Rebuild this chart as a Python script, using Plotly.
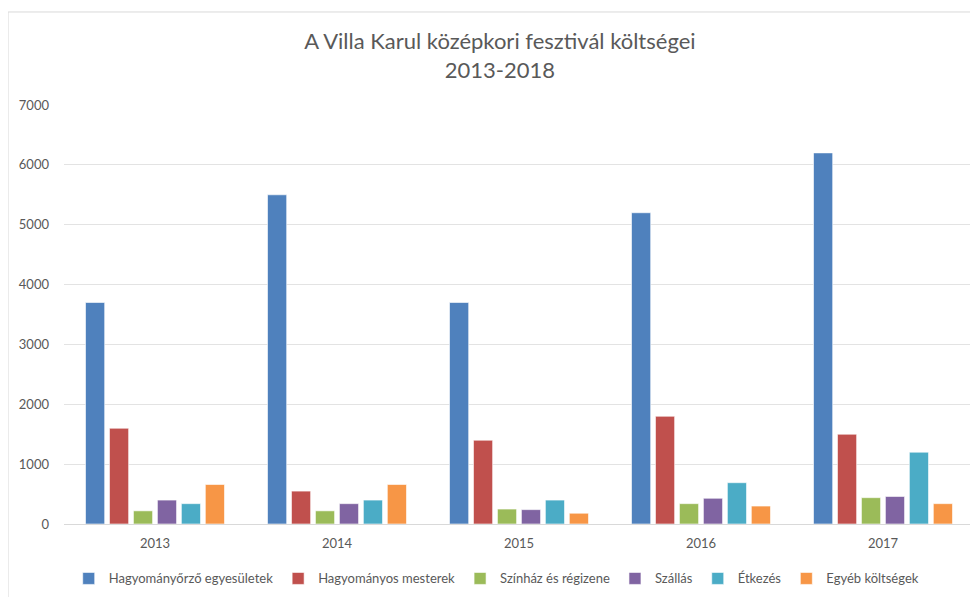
import plotly.graph_objects as go

years = ["2013", "2014", "2015", "2016", "2017"]
series_names = ["Hagyományőrző egyesületek", "Hagyományos mesterek", "Színház és régizene",
                "Szállás", "Étkezés", "Egyéb költségek"]
hagyomanyorzo = [3700, 5500, 3700, 5200, 6200]
mesterek = [1600, 550, 1400, 1800, 1500]
szinhaz = [220, 220, 250, 340, 440]
szallas = [400, 340, 240, 430, 460]
etkezes = [340, 400, 400, 690, 1200]
egyeb = [660, 660, 180, 300, 340]
colors = ["#4F81BD", "#C0504D", "#9BBB59", "#8064A2", "#4BACC6", "#F79646"]
y_ticks = [0, 1000, 2000, 3000, 4000, 5000, 6000, 7000]

all_series = [hagyomanyorzo, mesterek, szinhaz, szallas, etkezes, egyeb]
FONT = "Lato, 'Open Sans', sans-serif"

fig = go.Figure()
for name, vals, col in zip(series_names, all_series, colors):
    fig.add_trace(go.Bar(x=years, y=vals, name=name,
                         marker=dict(color=col, line=dict(color="rgba(255,255,255,0.6)", width=1))))

fig.update_layout(
    width=978, height=597,
    paper_bgcolor="white", plot_bgcolor="white",
    margin=dict(l=56, r=12, t=97, b=81, autoexpand=False),
    barmode="group", bargap=0.21, bargroupgap=0.2,
    font=dict(family=FONT, color="#595959", size=13),
    title=dict(text="A Villa Karul középkori fesztivál költségei<br>2013-2018",
               x=0.479, xref="paper", xanchor="center", y=0.931, yanchor="top",
               font=dict(size=22, color="#595959", family=FONT)),
    legend=dict(orientation="h", x=0.4755, xanchor="center", y=-0.13, yanchor="middle",
                font=dict(size=13, color="#595959"), itemwidth=30, traceorder="normal"),
    showlegend=True,
)
fig.update_yaxes(range=[0, 7000], tickvals=y_ticks, showgrid=True, gridcolor="#E3E3E3", gridwidth=1,
                 zeroline=False, showline=False, ticklabelstandoff=14, tickfont=dict(size=13))
fig.update_xaxes(showline=True, linecolor="#D9D9D9", linewidth=1, ticks="", tickfont=dict(size=13),
                 ticklabelstandoff=7)
fig.add_shape(type="rect", xref="paper", yref="paper", x0=-0.0615, x1=1.03, y0=-0.3, y1=1.222,
              line=dict(color="#D9D9D9", width=1), fillcolor="rgba(0,0,0,0)", layer="below")

fig.write_html("out.html")
